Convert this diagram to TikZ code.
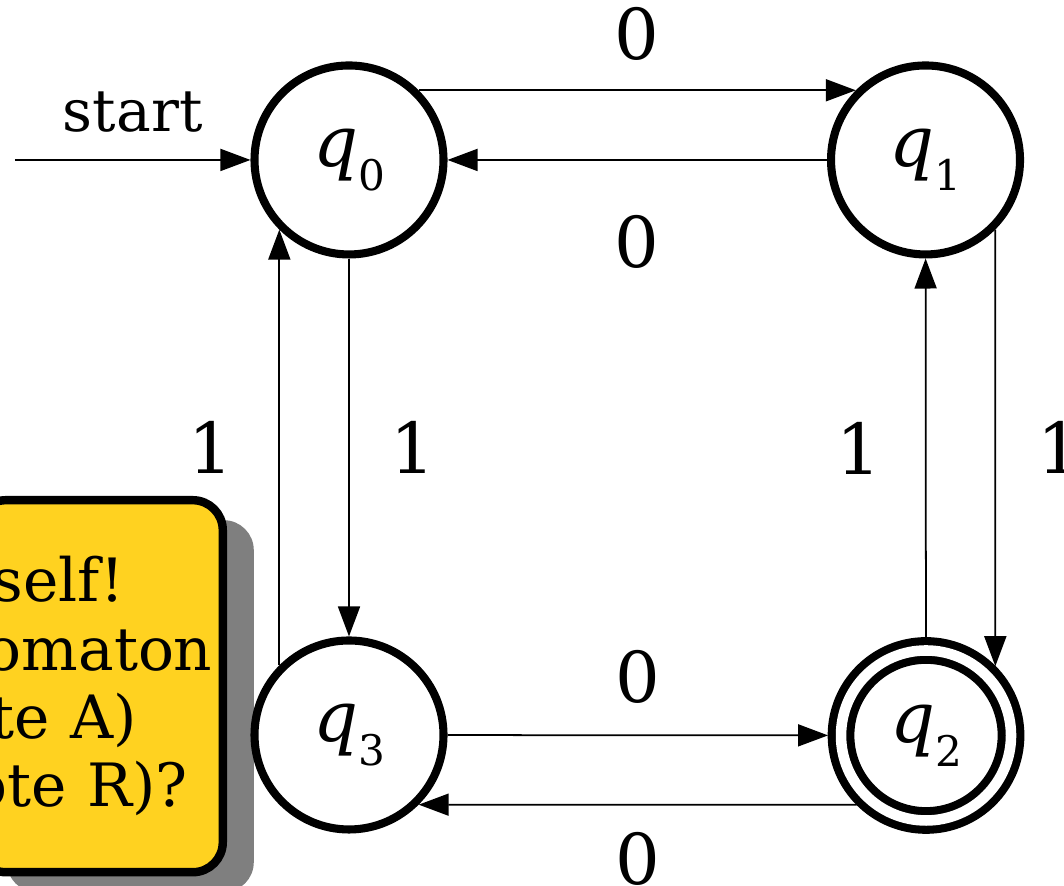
\documentclass[tikz,border=0pt]{standalone}
\usepackage{fontspec}
\setmainfont{DejaVu Serif}
\usepackage{tikz}
\usetikzlibrary{arrows.meta,shadows}
\usepackage{xcolor}
\definecolor{notebg}{RGB}{255,210,32}
\newcommand{\qsub}[1]{\textit{q}\raisebox{-3.4pt}{\fontsize{6}{7}\selectfont #1}}

\begin{document}
\begin{tikzpicture}[>={Triangle[length=1.5mm,width=1.1mm]},
  st/.style={draw,circle,line width=1.15pt,minimum size=0.945cm,inner sep=0pt},
  acc/.style={st,minimum size=0.85cm,double,double distance=1.5pt,outer sep=0.065cm},
  tr/.style={->,line width=0.25pt},
  lbl/.style={midway,inner sep=0pt}]
\useasboundingbox (0,0) rectangle (5.32,4.43);
\node[draw,line width=1.2pt,fill=notebg,rounded corners=0.15cm,anchor=north east,text width=1.135cm,inner xsep=0.05cm,minimum height=1.86cm,align=left,font=\fontsize{8.5}{9.7}\selectfont,drop shadow={shadow xshift=0.155cm,shadow yshift=-0.1cm,opacity=0.5,fill=black}] (note) at (1.135,1.95) {\hspace*{0.035cm}self!\\omaton\\\hspace*{0.025cm}te A)\\\hspace*{-0.07cm}ote R)?};
\node[st] (q0) at (1.745,3.63) {\qsub{0}};
\node[st] (q1) at (4.6275,3.63) {\qsub{1}};
\node[acc] (q2) at (4.63,0.7525) {\qsub{2}};
\node[st] (q3) at (1.745,0.755) {\qsub{3}};
\coordinate (start) at (0.075,3.63);
\draw[tr] (start) -- (q0) node[midway,above=0.5pt,font=\fontsize{8.3}{10}\selectfont] (startlbl) {start};
\draw[tr] (q0.45) -- (q1.135) node[lbl,yshift=0.28cm] (l01) {0};
\draw[tr] (q1) -- (q0) node[lbl,yshift=-0.41cm] (l10) {0};
\draw[tr] (q0) -- (q3) node[lbl,xshift=0.32cm] (l03) {1};
\draw[tr] (q3.135) -- (q0.225) node[lbl,xshift=-0.34cm] (l30) {1};
\draw[tr] (q3) -- (q2) node[lbl,yshift=0.29cm] (l32) {0};
\draw[tr] (q2.225) -- (q3.315) node[lbl,yshift=-0.27cm] (l23) {0};
\draw[tr] (q2) -- (q1) node[lbl,xshift=-0.335cm] (l21) {1};
\draw[tr] (q1.315) -- (q2.45) node[lbl,xshift=0.325cm] (l12) {1};
\end{tikzpicture}
\end{document}
